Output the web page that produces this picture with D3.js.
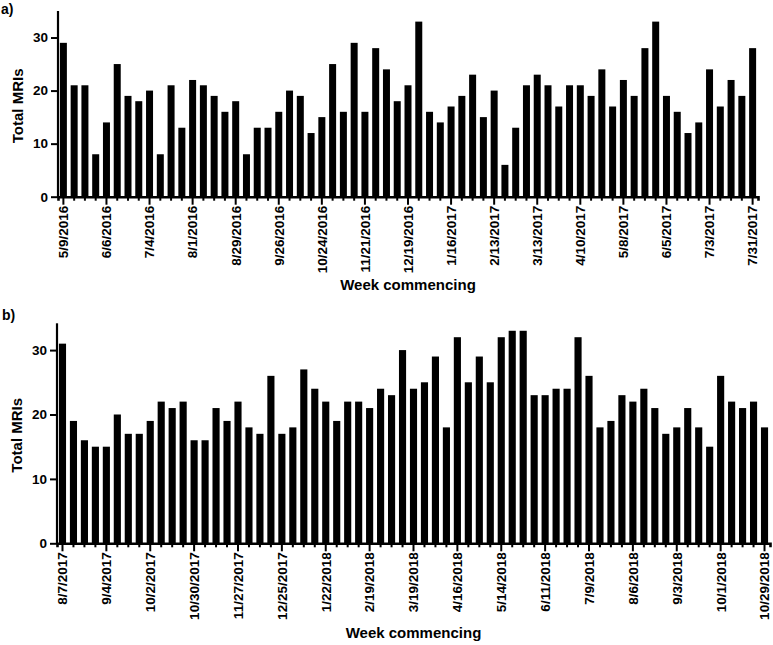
<!DOCTYPE html>
<html>
<head>
<meta charset="utf-8">
<script src="https://cdn.jsdelivr.net/npm/d3@7"></script>
<style>
  html, body { margin: 0; padding: 0; background: #fff; }
  svg { display: block; font-family: "Liberation Sans", Arial, sans-serif; }
  .axis text { font-weight: bold; fill: #000; }
  .axis path, .axis line { stroke: #000; }
</style>
</head>
<body>
<svg id="chart" width="773" height="645"></svg>
<script>
// ---- Data ----
const startA = "2016-05-09";
const startB = "2017-08-07";
const valuesA = [29,21,21,8,14,25,19,18,20,8,21,13,22,21,19,16,18,8,13,13,
                 16,20,19,12,15,25,16,29,16,28,24,18,21,33,16,14,17,19,23,15,
                 20,6,13,21,23,21,17,21,21,19,24,17,22,19,28,33,19,16,12,14,
                 24,17,22,19,28];
const valuesB = [31,19,16,15,15,20,17,17,19,22,21,22,16,16,21,19,22,18,17,26,
                 17,18,27,24,22,19,22,22,21,24,23,30,24,25,29,18,32,25,29,25,
                 32,33,33,23,23,24,24,32,26,18,19,23,22,24,21,17,18,21,18,15,
                 26,22,21,22,18];
const tickLabelsA = ["5/9/2016","6/6/2016","7/4/2016","8/1/2016","8/29/2016","9/26/2016",
                     "10/24/2016","11/21/2016","12/19/2016","1/16/2017","2/13/2017","3/13/2017",
                     "4/10/2017","5/8/2017","6/5/2017","7/3/2017","7/31/2017"];
const tickLabelsB = ["8/7/2017","9/4/2017","10/2/2017","10/30/2017","11/27/2017","12/25/2017",
                     "1/22/2018","2/19/2018","3/19/2018","4/16/2018","5/14/2018","6/11/2018",
                     "7/9/2018","8/6/2018","9/3/2018","10/1/2018","10/29/2018"];
const yTicks = [0,10,20,30];
const yLabel = "Total MRIs";
const xLabel = "Week commencing";

// weekly categories (one per bar)
const fmt = d => `${d.getUTCMonth()+1}/${d.getUTCDate()}/${d.getUTCFullYear()}`;
function weeks(start, n) {
  const s = new Date(start + "T00:00:00Z");
  return d3.range(n).map(i => fmt(d3.utcDay.offset(s, 7 * i)));
}
const categoriesA = weeks(startA, valuesA.length);
const categoriesB = weeks(startB, valuesB.length);

const svg = d3.select("#chart");

function panel(cfg) {
  const g = svg.append("g");
  const x = d3.scaleBand().domain(cfg.categories).range([cfg.left, cfg.right])
    .paddingInner(0.35).paddingOuter(0.175);
  const y = d3.scaleLinear().domain([0, cfg.yMax]).range([cfg.bottom, cfg.top]);

  // bars
  g.append("g").selectAll("rect")
    .data(cfg.values)
    .join("rect")
    .attr("x", (d, i) => x(cfg.categories[i]))
    .attr("width", x.bandwidth())
    .attr("y", d => y(d))
    .attr("height", d => y(0) - y(d))
    .attr("fill", "#000");

  // x axis
  const xa = g.append("g").attr("class", "axis")
    .attr("transform", `translate(0,${cfg.bottom})`)
    .call(d3.axisBottom(x).tickSizeOuter(0).tickSize(4)
      .tickFormat(d => cfg.tickLabels.includes(d) ? d : ""));
  xa.select(".domain").attr("stroke-width", 2.6);
  xa.selectAll(".tick line").attr("stroke-width", 2)
    .attr("y2", d => cfg.tickLabels.includes(d) ? 8 : 4);
  xa.selectAll(".tick text")
    .attr("font-size", "13.5px")
    .attr("transform", "rotate(-90)")
    .attr("text-anchor", "end")
    .attr("x", -9)
    .attr("y", 0)
    .attr("dy", "0.36em");

  // y axis
  const ya = g.append("g").attr("class", "axis")
    .attr("transform", `translate(${cfg.left},0)`)
    .call(d3.axisLeft(y).tickValues(yTicks).tickSize(7).tickPadding(3).tickSizeOuter(0));
  ya.select(".domain").attr("stroke-width", 2.2)
    .attr("d", `M0,${cfg.bottom + 1}V${cfg.top}`);
  ya.selectAll(".tick line").attr("stroke-width", 2);
  ya.selectAll(".tick text").attr("font-size", "13.5px");

  // y label
  g.append("text")
    .attr("transform", `translate(${cfg.yLabelX},${(cfg.top + cfg.bottom) / 2 + 2}) rotate(-90)`)
    .attr("text-anchor", "middle")
    .attr("dy", "0.35em")
    .attr("font-size", "15px").attr("font-weight", "bold")
    .text(yLabel);

  // x label
  g.append("text")
    .attr("x", (cfg.left + cfg.right) / 2)
    .attr("y", cfg.xLabelY)
    .attr("text-anchor", "middle")
    .attr("font-size", "15px").attr("font-weight", "bold")
    .text(xLabel);

  // panel letter
  g.append("text")
    .attr("x", cfg.letterX).attr("y", cfg.letterY)
    .attr("font-size", "14px").attr("font-weight", "bold")
    .text(cfg.letter);
}

panel({
  categories: categoriesA, values: valuesA, tickLabels: tickLabelsA,
  left: 58, right: 758, top: 11, bottom: 196.7, yMax: 35,
  yLabelX: 18, xLabelY: 290, letter: "a)", letterX: 1, letterY: 14
});
panel({
  categories: categoriesB, values: valuesB, tickLabels: tickLabelsB,
  left: 57, right: 770, top: 323.3, bottom: 543.3, yMax: 34.16,
  yLabelX: 17, xLabelY: 638, letter: "b)", letterX: 2, letterY: 320
});
</script>
</body>
</html>
